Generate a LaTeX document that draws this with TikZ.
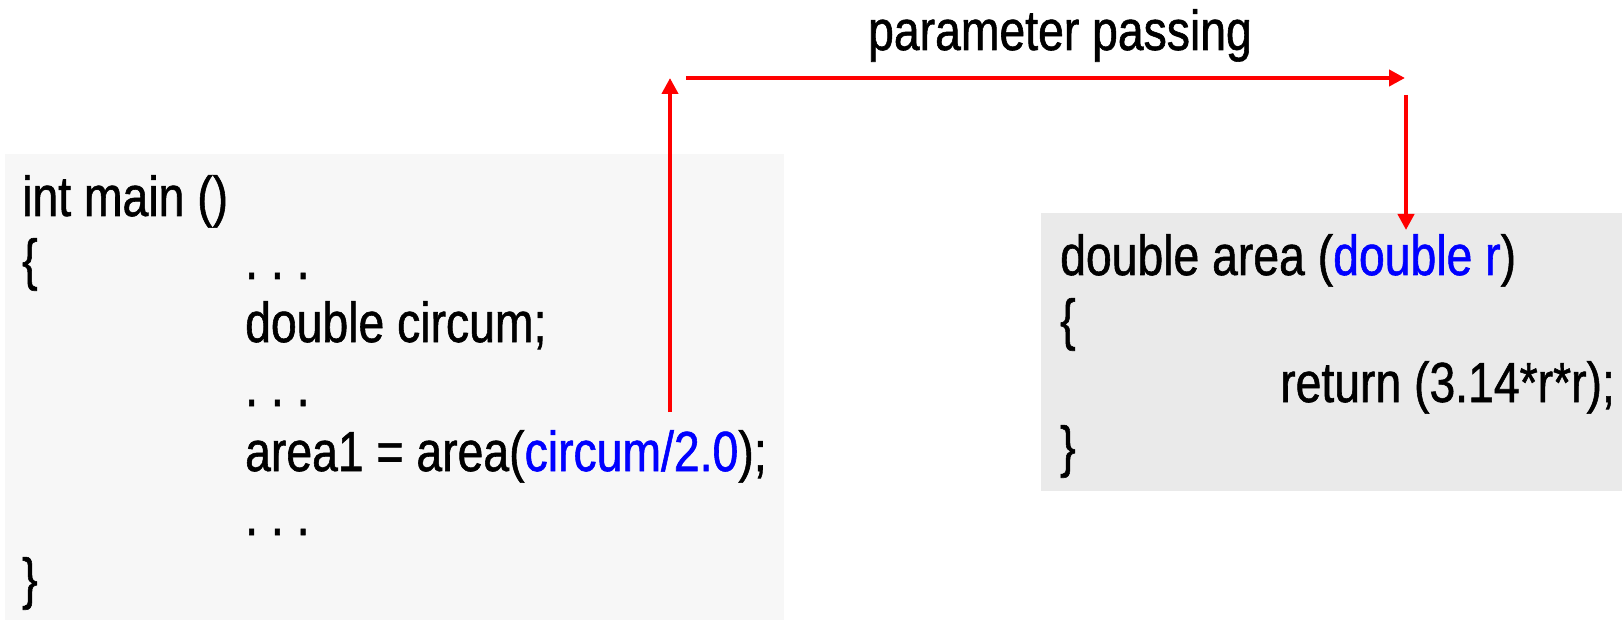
\documentclass[tikz,border=0pt]{standalone}
\usepackage{fontspec}
\setmainfont[FakeStretch=0.82,FakeBold=1]{Liberation Sans}
\usetikzlibrary{arrows.meta}
\definecolor{codeblue}{RGB}{0,0,255}
\definecolor{flowred}{RGB}{255,0,0}
\definecolor{mainbg}{RGB}{247,247,247}
\definecolor{funcbg}{RGB}{234,234,234}
\begin{document}
\begin{tikzpicture}[x=1pt,y=-1pt,
  code/.style={anchor=base west,inner sep=0pt,font=\fontsize{56.5}{68}\selectfont},
  label/.style={anchor=base,inner sep=0pt,font=\fontsize{56.5}{68}\selectfont},
  flow/.style={draw=flowred,line width=4pt,-{Triangle[length=16pt,width=16pt]}},
  panel/.style={inner sep=0pt,anchor=north west},
]
\useasboundingbox (0,0) rectangle (1622,620);

% caller and callee panels
\node[panel,fill=mainbg,minimum width=779pt,minimum height=466pt] (mainpanel) at (5,154) {};
\node[panel,fill=funcbg,minimum width=581pt,minimum height=278pt] (areapanel) at (1041,213) {};

% int main ()
\node[code] (m1) at (22,216) {int main ()};
\node[code] (m2) at (22,279) {\{};
\node[code] (m2d) at (245,279) {.\ .\ .};
\node[code] (m3) at (245,342) {double circum;};
\node[code] (m4) at (245,406) {.\ .\ .};
\node[code] (m5) at (245,471) {area1 = area(\textcolor{codeblue}{circum/2.0});};
\node[code] (m6) at (245,535) {.\ .\ .};
\node[code] (m7) at (22,598) {\}};

% double area (double r)
\node[code] (f1) at (1060,275) {double area (\textcolor{codeblue}{double r})};
\node[code] (f2) at (1060,339) {\{};
\node[code] (f3) at (1280,402) {return (3.14*r*r);};
\node[code] (f4) at (1060,466) {\}};

% argument flow
\node[label] (caption) at (1060,50) {parameter passing};
\coordinate (argout) at (670,412);
\coordinate (argtop) at (670,78);
\coordinate (hstart) at (686,78);
\coordinate (hend) at (1405,78);
\coordinate (vstart) at (1406,95);
\coordinate (paramin) at (1406,230);
\draw[flow] (argout) -- (argtop);
\draw[flow] (hstart) -- (hend);
\draw[flow] (vstart) -- (paramin);
\end{tikzpicture}
\end{document}
